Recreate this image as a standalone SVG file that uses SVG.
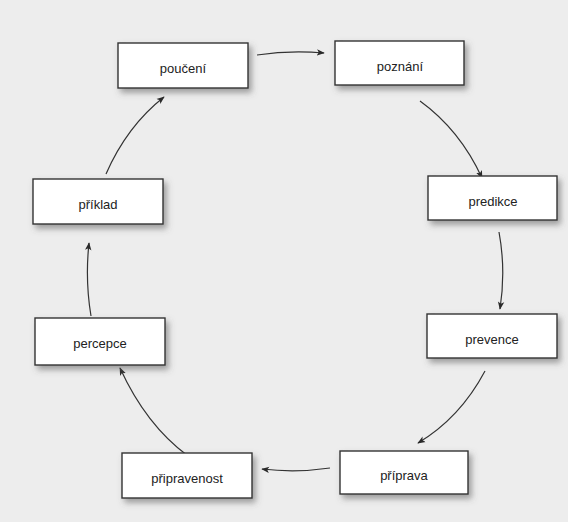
<svg xmlns="http://www.w3.org/2000/svg" width="568" height="522" viewBox="0 0 568 522">
<defs>
<filter id="sh" x="-20%" y="-30%" width="150%" height="180%">
<feDropShadow dx="3" dy="4" stdDeviation="3" flood-color="#555" flood-opacity="0.55"/>
</filter>
<marker id="ah" viewBox="0 0 10 10" refX="9" refY="5" markerWidth="8" markerHeight="8" markerUnits="userSpaceOnUse" orient="auto">
<path d="M0,1 L10,5 L0,9 L2.5,5 Z" fill="#2a2a2a"/>
</marker>
<style>
.box{fill:#fff;stroke:#333;stroke-width:1.4;filter:url(#sh)}
.lbl{font-family:"Liberation Sans",Arial,sans-serif;font-size:13px;fill:#222;text-anchor:middle}
.c{fill:none;stroke:#333;stroke-width:1.2;marker-end:url(#ah)}
</style>
</defs>
<rect width="568" height="522" fill="#ededed"/>
<g id="connectors">
<path class="c" d="M257,55 Q290,50 324,53"/>
<path class="c" d="M420,101 Q460,130 482,178"/>
<path class="c" d="M499,232 Q506,270 500,309"/>
<path class="c" d="M485,371 Q460,418 418,443"/>
<path class="c" d="M330,468 Q296,473 262,469"/>
<path class="c" d="M188,456 Q146,425 120,368"/>
<path class="c" d="M91,316 Q85,280 89,243"/>
<path class="c" d="M106,174 Q127,126 164,97"/>
</g>
<g id="poučení"><rect class="box" x="118" y="43" width="130" height="45"/><text class="lbl" x="183" y="73">poučení</text></g>
<g id="poznání"><rect class="box" x="335" y="41" width="129" height="44"/><text class="lbl" x="400" y="71">poznání</text></g>
<g id="predikce"><rect class="box" x="428" y="176" width="129" height="44"/><text class="lbl" x="493" y="206">predikce</text></g>
<g id="prevence"><rect class="box" x="427" y="314" width="130" height="44"/><text class="lbl" x="492" y="344">prevence</text></g>
<g id="příprava"><rect class="box" x="340" y="451" width="128" height="43"/><text class="lbl" x="404" y="480">příprava</text></g>
<g id="připravenost"><rect class="box" x="122" y="453" width="130" height="45"/><text class="lbl" x="187" y="483">připravenost</text></g>
<g id="percepce"><rect class="box" x="35" y="318" width="130" height="47"/><text class="lbl" x="100" y="348">percepce</text></g>
<g id="příklad"><rect class="box" x="33" y="179" width="130" height="45"/><text class="lbl" x="98" y="209">příklad</text></g>
</svg>
